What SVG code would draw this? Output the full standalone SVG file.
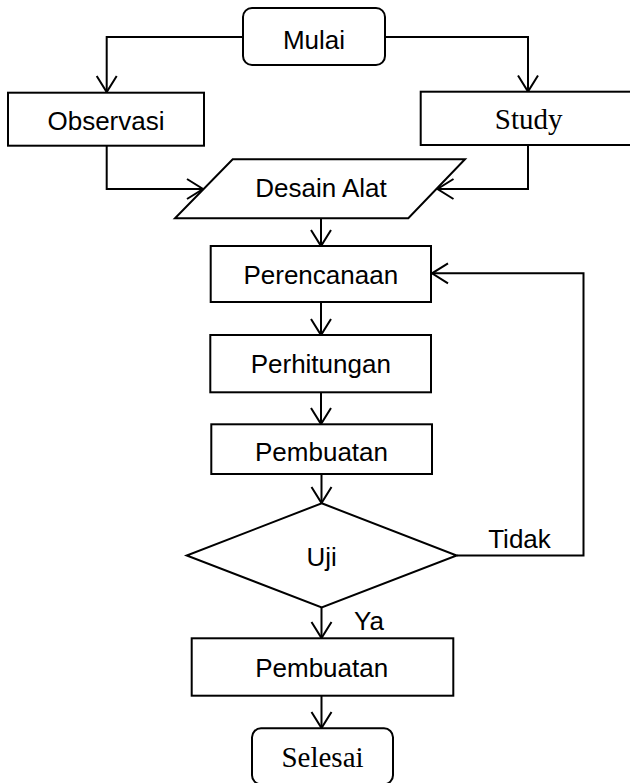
<svg xmlns="http://www.w3.org/2000/svg" width="630" height="783" viewBox="0 0 630 783">
<style>
.box{fill:#fff;stroke:#000;stroke-width:2}
.t{font-family:"Liberation Sans",Arial,sans-serif;font-size:26px;fill:#000;text-anchor:middle}
.s{font-family:"Liberation Serif","Times New Roman",serif;font-size:29px;fill:#000;text-anchor:middle}
.c{fill:none;stroke:#000;stroke-width:2}
</style>
<defs>
<marker id="arr" markerUnits="userSpaceOnUse" markerWidth="20" markerHeight="24" viewBox="-18 -12 20 24" refX="0" refY="0" orient="auto">
<path d="M-16,-10 L0,0 L-16,10" fill="none" stroke="#000" stroke-width="2"/>
</marker>
</defs>
<rect width="630" height="783" fill="#fff"/>
<g id="connectors">
<path class="c" d="M243,37 H106.7 V92" marker-end="url(#arr)"/>
<path class="c" d="M385,37 H528 V91.5" marker-end="url(#arr)"/>
<path class="c" d="M106.7,145.7 V189 H203" marker-end="url(#arr)"/>
<path class="c" d="M528,145 V189 H437.5" marker-end="url(#arr)"/>
<path class="c" d="M321,218.3 V246" marker-end="url(#arr)"/>
<path class="c" d="M321,302 V335" marker-end="url(#arr)"/>
<path class="c" d="M321,392.3 V424" marker-end="url(#arr)"/>
<path class="c" d="M321.5,474 V503" marker-end="url(#arr)"/>
<path class="c" d="M456.7,555.5 H583.5 V273.3 H432" marker-end="url(#arr)"/>
<path class="c" d="M321.5,607.5 V638" marker-end="url(#arr)"/>
<path class="c" d="M321.5,695.7 V728" marker-end="url(#arr)"/>
<text class="t" x="519.5" y="548.3">Tidak</text>
<text class="t" x="369" y="630">Ya</text>
</g>
<g id="mulai">
<rect class="box" x="243" y="8" width="142" height="57" rx="9"/>
<text class="t" x="314" y="49.3">Mulai</text>
</g>
<g id="observasi">
<rect class="box" x="8" y="92.7" width="196" height="53"/>
<text class="t" x="106" y="130">Observasi</text>
</g>
<g id="study">
<rect class="box" x="420.7" y="91.7" width="216" height="53.3"/>
<text class="s" x="528.7" y="129.3">Study</text>
</g>
<g id="desain">
<polygon class="box" points="232.7,159.3 465,159.3 408.3,218.3 175,218.3"/>
<text class="t" x="321" y="197.3">Desain Alat</text>
</g>
<g id="perencanaan">
<rect class="box" x="210.7" y="246" width="220.3" height="56"/>
<text class="t" x="320.8" y="284.3">Perencanaan</text>
</g>
<g id="perhitungan">
<rect class="box" x="210.3" y="335" width="220.7" height="57.3"/>
<text class="t" x="320.8" y="373.3">Perhitungan</text>
</g>
<g id="pembuatan1">
<rect class="box" x="211.3" y="424.3" width="220.7" height="49.7"/>
<text class="t" x="321.5" y="461">Pembuatan</text>
</g>
<g id="uji">
<polygon class="box" points="321.7,503.3 456.7,555.5 321.7,607.5 186.7,555.5"/>
<text class="t" x="321.7" y="565.7">Uji</text>
</g>
<g id="pembuatan2">
<rect class="box" x="191.7" y="638.3" width="261.6" height="57.4"/>
<text class="t" x="321.7" y="676.7">Pembuatan</text>
</g>
<g id="selesai">
<rect class="box" x="252" y="728.3" width="141" height="56" rx="9"/>
<text class="s" x="322.5" y="766.7">Selesai</text>
</g>
</svg>
